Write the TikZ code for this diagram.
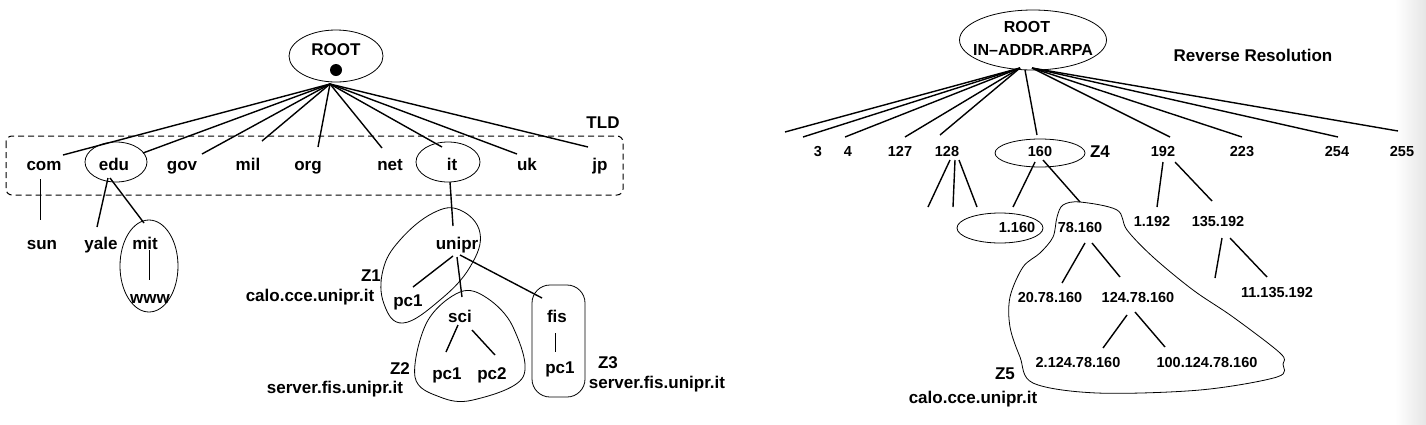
\documentclass[tikz,border=0pt]{standalone}
\usepackage{fontspec}
\setmainfont{Liberation Sans}
\usetikzlibrary{shapes.geometric}
\begin{document}
\begin{tikzpicture}[x=1pt,y=-1pt,
  lab/.style={font=\fontsize{17}{19}\selectfont\bfseries, inner sep=0pt, text height=12pt, text depth=3.5pt},
  sm/.style={font=\fontsize{14.5}{16}\selectfont\bfseries, inner sep=0pt, text height=10.4pt, text depth=0pt},
  edge/.style={line width=1.4pt},
  oval/.style={ellipse, draw, line width=0.8pt, inner sep=0pt},
]
\useasboundingbox (0,0) rectangle (1426,424);
\shade[left color=white, right color=black!10] (1395,0) rectangle (1426,424);

% ================= LEFT TREE =================
\node[oval, minimum width=94pt, minimum height=52pt] (rootE) at (336,56) {};
\node[lab] (rootT) at (336,51) {ROOT};
\node[circle, fill, inner sep=0pt, minimum size=12pt] (rootDot) at (336,70) {};
\coordinate (ra) at (330,84);

\draw[dashed, dash pattern=on 6pt off 4pt, rounded corners=6pt, line width=1pt] (6,136) rectangle (623,195);
\node[lab] (tld) at (603,124) {TLD};

\node[lab] (com) at (44,166) {com};
\node[oval, minimum width=62pt, minimum height=40pt] (eduE) at (116,162) {};
\node[lab] (edu) at (114,166) {edu};
\node[lab] (gov) at (182,166) {gov};
\node[lab] (mil) at (248,166) {mil};
\node[lab] (org) at (308,166) {org};
\node[lab] (net) at (390,166) {net};
\node[oval, minimum width=64pt, minimum height=40pt] (itE) at (448,162) {};
\node[lab] (it) at (452,166) {it};
\node[lab] (uk) at (527,166) {uk};
\node[lab] (jp) at (600,166) {jp};

\coordinate (tcom) at (63,155);
\coordinate (tedu) at (143,153);
\coordinate (tgov) at (202,154);
\coordinate (tmil) at (262,141);
\coordinate (torg) at (318,147);
\coordinate (tnet) at (382,148);
\coordinate (tit) at (442,147);
\coordinate (tuk) at (517,154);
\coordinate (tjp) at (588,147);
\foreach \t in {tcom,tedu,tgov,tmil,torg,tnet,tit,tuk,tjp}
  \draw[edge] (ra) -- (\t);

% com / edu children
\coordinate (comA) at (40,179);
\coordinate (comB) at (40,220);
\draw[line width=1pt] (comA) -- (comB);
\node[lab] (sun) at (42,245) {sun};
\node[lab] (yale) at (101,245) {yale};
\node[oval, minimum width=58pt, minimum height=92pt] (mitE) at (149,266) {};
\node[lab] (mit) at (145,245) {mit};
\node[lab] (www) at (150,299) {www};
\coordinate (eduB1) at (108,178);
\coordinate (eduB2) at (110,178);
\coordinate (yaleT) at (97,227);
\coordinate (mitT) at (144,223);
\draw[edge] (eduB1) -- (yaleT);
\draw[edge] (eduB2) -- (mitT);
\coordinate (mitB) at (149,250);
\coordinate (wwwT) at (149,280);
\draw[line width=1pt] (mitB) -- (wwwT);

% it subtree
\coordinate (itB) at (450,182);
\coordinate (uniT) at (453,226);
\draw[edge] (itB) -- (uniT);
\node[lab] (unipr) at (457,245) {unipr};
\draw[line width=0.8pt] plot[smooth cycle, tension=0.7] coordinates
  {(460,210) (480,233) (470,267) (440,300) (403,323) (384,304) (383,270) (400,240) (433,213)};
\node[lab] (z1) at (371,277) {Z1};
\node[lab] (calo1) at (310,297) {calo.cce.unipr.it};
\node[lab] (pc1a) at (408,302) {pc1};
\coordinate (uB1) at (453,256);
\coordinate (uB2) at (457,257);
\coordinate (uB3) at (460,255);
\coordinate (pcaT) at (413,287);
\coordinate (sciT) at (462,297);
\coordinate (fisT) at (542,298);
\draw[edge] (uB1) -- (pcaT);
\draw[edge] (uB2) -- (sciT);
\draw[edge] (uB3) -- (fisT);
\node[lab] (sci) at (460,318) {sci};
\node[lab] (fis) at (557,318) {fis};
\draw[line width=0.8pt] plot[smooth cycle, tension=0.6] coordinates
  {(460,292) (487,298) (513,327) (523,377) (473,400) (440,397) (415,377) (427,322)};
\coordinate (sB1) at (458,325);
\coordinate (sB2) at (472,330);
\coordinate (pcbT) at (446,352);
\coordinate (pccT) at (495,355);
\draw[edge] (sB1) -- (pcbT);
\draw[edge] (sB2) -- (pccT);
\node[lab] (pc1b) at (447,375) {pc1};
\node[lab] (pc2) at (492,375) {pc2};
\node[lab] (z2) at (400,370) {Z2};
\node[lab] (srv2) at (335,389) {server.fis.unipr.it};
\draw[line width=0.8pt, rounded corners=18pt] (532,285) rectangle (585,397);
\coordinate (fB) at (555,333);
\coordinate (pcdT) at (555,352);
\draw[line width=1pt] (fB) -- (pcdT);
\node[lab] (pc1c) at (560,369) {pc1};
\node[lab] (z3) at (608,364) {Z3};
\node[lab] (srv3) at (657,384) {server.fis.unipr.it};

% ================= RIGHT TREE =================
\node[oval, minimum width=147pt, minimum height=60pt] (rrootE) at (1033,40) {};
\node[font=\fontsize{16}{18}\selectfont\bfseries, inner sep=0pt] (rrootT) at (1027,27) {ROOT};
\node[font=\fontsize{16}{18}\selectfont\bfseries, inner sep=0pt] (arpa) at (1033,50) {IN--ADDR.ARPA};
\node[lab] (rev) at (1253,57) {Reverse Resolution};
\coordinate (rl) at (1020,68);
\coordinate (rm) at (1025,70);
\coordinate (rr) at (1032,68);

\coordinate (e1) at (785,132);
\coordinate (e2) at (803,137);
\coordinate (e3) at (845,137);
\coordinate (e4) at (905,137);
\coordinate (e5) at (940,135);
\coordinate (e6) at (1037,135);
\coordinate (e7) at (1170,137);
\coordinate (e8) at (1242,137);
\coordinate (e9) at (1338,137);
\coordinate (e10) at (1398,131);
\foreach \t in {e1,e2,e3,e4,e5} \draw[edge] (rl) -- (\t);
\draw[edge] (rm) -- (e6);
\foreach \t in {e7,e8,e9,e10} \draw[edge] (rr) -- (\t);

\node[sm] (n3) at (818,151) {3};
\node[sm] (n4) at (848,151) {4};
\node[sm] (n127) at (900,151) {127};
\node[sm] (n128) at (947,151) {128};
\node[oval, minimum width=90pt, minimum height=28pt] (n160E) at (1040,153) {};
\node[sm] (n160) at (1040,151) {160};
\node[lab] (z4) at (1100,153) {Z4};
\node[sm] (n192) at (1163,151) {192};
\node[sm] (n223) at (1242,151) {223};
\node[sm] (n254) at (1337,151) {254};
\node[sm] (n255) at (1402,151) {255};

% 128 children
\coordinate (a1) at (950,160); \coordinate (a1e) at (928,207);
\coordinate (a2) at (955,160); \coordinate (a2e) at (953,207);
\coordinate (a3) at (959,160); \coordinate (a3e) at (977,207);
\draw[edge] (a1) -- (a1e);
\draw[edge] (a2) -- (a2e);
\draw[edge] (a3) -- (a3e);

% 160 children
\coordinate (b1) at (1035,162); \coordinate (b1e) at (1013,207);
\coordinate (b2) at (1043,160); \coordinate (b2e) at (1080,202);
\draw[edge] (b1) -- (b1e);
\draw[edge] (b2) -- (b2e);
\node[oval, minimum width=86pt, minimum height=30pt] (n1160E) at (1000,228) {};
\node[sm] (n1160) at (1017,227) {1.160};
\node[sm] (n78) at (1080,227) {78.160};

\draw[line width=0.8pt] plot[smooth cycle, tension=0.55] coordinates
  {(1080,202) (1117,210) (1127,230) (1153,257) (1193,290) (1233,317) (1280,353) (1283,364)
   (1277,377) (1200,390) (1097,393) (1033,383) (1020,357) (1010,327) (1010,297)
   (1023,267) (1040,253) (1053,237) (1057,217) (1063,205)};

\coordinate (c1) at (1085,243); \coordinate (c1e) at (1062,283);
\coordinate (c2) at (1092,243); \coordinate (c2e) at (1120,277);
\draw[edge] (c1) -- (c1e);
\draw[edge] (c2) -- (c2e);
\node[sm] (n20) at (1050,297) {20.78.160};
\node[sm] (n124) at (1138,297) {124.78.160};
\coordinate (d1) at (1127,315); \coordinate (d1e) at (1103,348);
\coordinate (d2) at (1135,312); \coordinate (d2e) at (1165,347);
\draw[edge] (d1) -- (d1e);
\draw[edge] (d2) -- (d2e);
\node[sm] (n2124) at (1078,362) {2.124.78.160};
\node[sm] (n100) at (1207,362) {100.124.78.160};
\node[lab] (z5) at (1005,375) {Z5};
\node[lab] (calo5) at (973,399) {calo.cce.unipr.it};

% 192 children
\coordinate (f1) at (1163,162); \coordinate (f1e) at (1157,207);
\coordinate (f2) at (1175,162); \coordinate (f2e) at (1212,201);
\draw[edge] (f1) -- (f1e);
\draw[edge] (f2) -- (f2e);
\node[sm] (n1192) at (1152,221) {1.192};
\node[sm] (n135) at (1218,221) {135.192};
\coordinate (g1) at (1222,238); \coordinate (g1e) at (1215,278);
\coordinate (g2) at (1230,238); \coordinate (g2e) at (1267,277);
\draw[edge] (g1) -- (g1e);
\draw[edge] (g2) -- (g2e);
\node[sm] (n11) at (1277,292) {11.135.192};
\end{tikzpicture}
\end{document}
